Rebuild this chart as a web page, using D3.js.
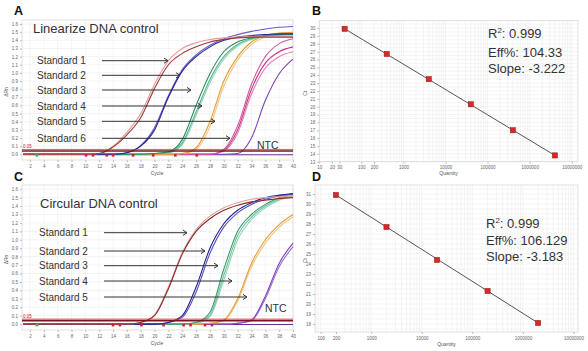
<!DOCTYPE html>
<html>
<head>
<meta charset="utf-8">
<script src="https://cdn.jsdelivr.net/npm/d3@7"></script>
<style>
  body { margin: 0; background: #fff; }
  svg { display: block; }
  text { font-family: "Liberation Sans", Arial, sans-serif; }
</style>
</head>
<body>
<script>
// ---- data ----
const cycleGrid = [1, 4, 8, 10, 12, 14, 16, 18, 20, 22, 24, 26, 28, 30, 32, 34, 36, 38, 40];
const cycleTicks = [2, 4, 6, 8, 10, 12, 14, 16, 18, 20, 22, 24, 26, 28, 30, 32, 34, 36, 38, 40];
const rnTicks = [0, 0.1, 0.2, 0.3, 0.4, 0.5, 0.6, 0.7, 0.8, 0.9, 1.0, 1.1, 1.2, 1.3, 1.4, 1.5, 1.6];
const threshold = 0.05;

// linearized DNA control, delta Rn per cycle (replicates)
const linStd1a = [0, 0, 0, 0, 0.01, 0.09, 0.24, 0.45, 0.81, 1.10, 1.24, 1.32, 1.38, 1.41, 1.43, 1.44, 1.44, 1.44, 1.44];
const linStd1b = [0, 0, 0, 0, 0.01, 0.10, 0.27, 0.50, 0.86, 1.15, 1.30, 1.37, 1.41, 1.43, 1.44, 1.45, 1.45, 1.45, 1.45];
const linStd2a = [0, 0, 0, 0, 0, 0, 0.02, 0.10, 0.30, 0.70, 1.02, 1.20, 1.32, 1.40, 1.44, 1.46, 1.47, 1.48, 1.48];
const linStd2b = [0, 0, 0, 0, 0, 0, 0.02, 0.11, 0.33, 0.72, 1.04, 1.22, 1.34, 1.42, 1.47, 1.51, 1.54, 1.56, 1.57];
const linStd3a = [0, 0, 0, 0, 0, 0, 0, 0, 0.01, 0.03, 0.18, 0.60, 0.99, 1.26, 1.38, 1.43, 1.46, 1.47, 1.48];
const linStd3b = [0, 0, 0, 0, 0, 0, 0, 0, 0.01, 0.02, 0.14, 0.52, 0.92, 1.20, 1.35, 1.42, 1.45, 1.47, 1.47];
const linStd3c = [0, 0, 0, 0, 0, 0, 0, 0, 0.01, 0.02, 0.12, 0.48, 0.88, 1.17, 1.33, 1.41, 1.45, 1.46, 1.47];
const linStd4a = [0, 0, 0, 0, 0, 0, 0, 0, 0, 0, 0.01, 0.08, 0.40, 0.90, 1.20, 1.38, 1.46, 1.49, 1.50];
const linStd4b = [0, 0, 0, 0, 0, 0, 0, 0, 0, 0, 0.01, 0.06, 0.34, 0.84, 1.16, 1.35, 1.44, 1.48, 1.50];
const linStd5a = [0, 0, 0, 0, 0, 0, 0, 0, 0, 0, 0, 0, 0, 0.05, 0.30, 0.80, 1.12, 1.26, 1.32];
const linStd5b = [0, 0, 0, 0, 0, 0, 0, 0, 0, 0, 0, 0, 0, 0.04, 0.26, 0.74, 1.06, 1.20, 1.26];
const linStd5c = [0, 0, 0, 0, 0, 0, 0, 0, 0, 0, 0, 0, 0, 0.06, 0.35, 0.86, 1.20, 1.36, 1.42];
const linStd6a = [0, 0, 0, 0, 0, 0, 0, 0, 0, 0, 0, 0, 0, 0, 0.01, 0.20, 0.66, 0.99, 1.17];
const linNtc = [-0.005, -0.005, -0.005, -0.005, -0.005, -0.005, -0.005, -0.005, -0.005, -0.005, -0.005, -0.005, -0.005, -0.005, -0.005, -0.005, -0.005, -0.005, -0.005];

// circular DNA control
const circStd1a = [0, 0, 0, 0, 0, 0, 0, 0.02, 0.10, 0.42, 0.83, 1.10, 1.25, 1.35, 1.41, 1.45, 1.47, 1.49, 1.50];
const circStd1b = [0, 0, 0, 0, 0, 0, 0, 0.02, 0.11, 0.44, 0.85, 1.12, 1.28, 1.38, 1.44, 1.48, 1.50, 1.51, 1.52];
const circStd2a = [0, 0, 0, 0, 0, 0, 0, 0, 0, 0.02, 0.10, 0.44, 0.90, 1.19, 1.35, 1.44, 1.50, 1.53, 1.55];
const circStd2b = [0, 0, 0, 0, 0, 0, 0, 0, 0, 0.02, 0.08, 0.38, 0.84, 1.15, 1.32, 1.42, 1.48, 1.52, 1.54];
const circStd3a = [0, 0, 0, 0, 0, 0, 0, 0, 0, 0, 0, 0.02, 0.14, 0.65, 1.10, 1.30, 1.42, 1.50, 1.55];
const circStd3b = [0, 0, 0, 0, 0, 0, 0, 0, 0, 0, 0, 0.02, 0.11, 0.58, 1.05, 1.27, 1.40, 1.48, 1.53];
const circStd3c = [0, 0, 0, 0, 0, 0, 0, 0, 0, 0, 0, 0.01, 0.09, 0.52, 1.00, 1.24, 1.38, 1.47, 1.52];
const circStd4a = [0, 0, 0, 0, 0, 0, 0, 0, 0, 0, 0, 0, 0.01, 0.05, 0.30, 0.72, 1.00, 1.18, 1.30];
const circStd4b = [0, 0, 0, 0, 0, 0, 0, 0, 0, 0, 0, 0, 0.01, 0.04, 0.27, 0.68, 0.96, 1.15, 1.27];
const circStd5a = [0, 0, 0, 0, 0, 0, 0, 0, 0, 0, 0, 0, 0, 0, 0.01, 0.05, 0.33, 0.72, 0.96];
const circStd5b = [0, 0, 0, 0, 0, 0, 0, 0, 0, 0, 0, 0, 0, 0, 0.01, 0.04, 0.30, 0.68, 0.92];
const circNtc = linNtc;

const linMarkerCycles = [10.1, 11.1, 13.1, 14.0, 16.9, 19.8, 23.0, 26.1];
const circMarkerCycles = [14.0, 15.0, 18.1, 21.3, 24.2, 25.2, 27.3, 28.3];
const baselineStartCycle = 3;

// standard curves
const quantB = [40, 400, 4000, 40000, 400000, 4000000];
const ctB = [29.9, 26.7, 23.5, 20.3, 17.0, 13.8];
const quantTicksB = [10, 20, 30, 100, 200, 1000, 10000, 100000, 1000000, 10000000];
const ctTicksB = d3.range(13, 31);

const quantD = [200, 2000, 20000, 200000, 2000000];
const ctD = [30.9, 27.7, 24.4, 21.3, 18.1];
const quantTicksD = [100, 200, 1000, 10000, 100000, 1000000, 10000000];
const ctTicksD = d3.range(18, 32);

const statsB = ['0.999', '104.33', '-3.222'];
const statsD = ['0.999', '106.129', '-3.183'];

const linLabels = ['Standard 1', 'Standard 2', 'Standard 3', 'Standard 4', 'Standard 5', 'Standard 6'];
const circLabels = ['Standard 1', 'Standard 2', 'Standard 3', 'Standard 4', 'Standard 5'];

// ---- drawing ----
const svg = d3.select('body').append('svg').attr('width', 588).attr('height', 351);
svg.append('rect').attr('width', 588).attr('height', 351).attr('fill', '#fff');

const tickFont = 4.5;
const gridColor = '#ececec';

function panelLetter(txt, x, y) {
  svg.append('text').attr('x', x).attr('y', y).text(txt)
    .attr('font-size', 12.5).attr('font-weight', 'bold').attr('fill', '#111');
}

function styleAxis(g) {
  g.select('.domain').remove();
  g.selectAll('line').attr('stroke', '#bbb');
  g.selectAll('text').attr('font-size', tickFont).attr('fill', '#666');
}

function ampPanel(o) {
  const x = d3.scaleLinear([0.85, 40], [22, 293]);
  const y = d3.scaleLinear([-0.07, 1.65], [o.bottom, o.top]);
  const g = svg.append('g');

  // grid
  g.append('g').selectAll('line').data(rnTicks).join('line')
    .attr('x1', 22).attr('x2', 293)
    .attr('y1', (d) => y(d)).attr('y2', (d) => y(d))
    .attr('stroke', gridColor).attr('stroke-width', 0.6);
  g.append('g').selectAll('line').data(cycleTicks).join('line')
    .attr('x1', (d) => x(d)).attr('x2', (d) => x(d))
    .attr('y1', o.top).attr('y2', o.bottom)
    .attr('stroke', gridColor).attr('stroke-width', 0.6);
  g.append('rect').attr('x', 22).attr('y', o.top).attr('width', 271).attr('height', o.bottom - o.top)
    .attr('fill', 'none').attr('stroke', '#d4d4d4').attr('stroke-width', 0.7);

  // axes
  g.append('g').attr('transform', `translate(0,${o.bottom})`)
    .call(d3.axisBottom(x).tickValues(cycleTicks).tickSize(2).tickPadding(2.5))
    .call(styleAxis);
  g.append('g').attr('transform', 'translate(22,0)')
    .call(d3.axisLeft(y).tickValues(rnTicks).tickFormat(d3.format('.1f')).tickSize(2).tickPadding(2))
    .call(styleAxis);
  g.append('text').attr('x', 157).attr('y', o.bottom + 14.5).attr('text-anchor', 'middle')
    .attr('font-size', 5).attr('fill', '#555').text('Cycle');
  g.append('text').attr('transform', `translate(8,${(o.top + o.bottom) / 2 + 2}) rotate(-90)`)
    .attr('text-anchor', 'middle').attr('font-size', 5).attr('fill', '#555').text('ΔRn');

  // curves
  const line = d3.line().x((d, i) => x(cycleGrid[i])).y((d) => y(d)).curve(d3.curveMonotoneX);
  g.append('g').selectAll('path').data(o.series).join('path')
    .attr('d', (d) => line(d.values))
    .attr('fill', 'none').attr('stroke', (d) => d.color).attr('stroke-width', 1.1);

  // threshold
  const ty = y(threshold);
  g.append('line').attr('x1', 22).attr('x2', 293).attr('y1', ty + 0.7).attr('y2', ty + 0.7)
    .attr('stroke', '#7a1522').attr('stroke-width', 1.6);
  g.append('line').attr('x1', 22).attr('x2', 293).attr('y1', ty - 0.8).attr('y2', ty - 0.8)
    .attr('stroke', '#e0302f').attr('stroke-width', 0.8);
  g.append('text').attr('x', 23).attr('y', ty - 2).attr('font-size', 4.5).attr('fill', '#d02020').text('0.05');

  // baseline markers
  g.append('g').selectAll('rect').data(o.markers).join('rect')
    .attr('x', (d) => x(d) - 1.3).attr('y', y(-0.012) - 1.3).attr('width', 2.6).attr('height', 2.6)
    .attr('fill', '#d01f2a');
  g.append('circle').attr('cx', x(baselineStartCycle)).attr('cy', y(-0.01)).attr('r', 1.6).attr('fill', '#3cb44b');

  // title and labels
  g.append('text').attr('x', o.titleX).attr('y', o.titleY).attr('font-size', 13).attr('fill', '#333').text(o.title);
  o.labels.forEach((lab, i) => {
    const ly = o.labelY[i];
    g.append('text').attr('x', o.labelX).attr('y', ly + 3.6).attr('font-size', 10).attr('fill', '#333').text(lab);
    const x1 = o.arrowX0, x2 = o.arrowX1[i];
    g.append('line').attr('x1', x1).attr('x2', x2).attr('y1', ly).attr('y2', ly)
      .attr('stroke', '#333').attr('stroke-width', 1);
    g.append('path').attr('d', `M${x2 - 4},${ly - 2.6}L${x2},${ly}L${x2 - 4},${ly + 2.6}`)
      .attr('fill', 'none').attr('stroke', '#333').attr('stroke-width', 1);
  });
  g.append('text').attr('x', o.ntcX).attr('y', o.ntcY + 3.8).attr('font-size', 10.5).attr('fill', '#333').text('NTC');
}

function stdPanel(o) {
  const x = d3.scaleLog(o.xDomain, [o.left, 578]);
  const y = d3.scaleLinear(o.yDomain, [o.bottom, o.top]);
  const g = svg.append('g');

  // minor log grid
  const minor = [];
  for (let e = 1; e <= 7; e++) {
    for (let m = 1; m < 10; m++) {
      const q = m * Math.pow(10, e);
      if (q >= o.xDomain[0] && q <= o.xDomain[1]) minor.push(q);
    }
  }
  g.append('g').selectAll('line').data(minor).join('line')
    .attr('x1', (d) => x(d)).attr('x2', (d) => x(d)).attr('y1', o.top).attr('y2', o.bottom)
    .attr('stroke', gridColor).attr('stroke-width', 0.6);
  const halfTicks = d3.range(Math.ceil(o.yDomain[0] * 2) / 2, o.yDomain[1], 0.5);
  g.append('g').selectAll('line').data(halfTicks).join('line')
    .attr('x1', o.left).attr('x2', 578).attr('y1', (d) => y(d)).attr('y2', (d) => y(d))
    .attr('stroke', gridColor).attr('stroke-width', 0.6);
  g.append('rect').attr('x', o.left).attr('y', o.top).attr('width', 578 - o.left).attr('height', o.bottom - o.top)
    .attr('fill', 'none').attr('stroke', '#d4d4d4').attr('stroke-width', 0.7);

  g.append('g').attr('transform', `translate(0,${o.bottom})`)
    .call(d3.axisBottom(x).tickValues(o.xTicks).tickFormat(d3.format('d')).tickSize(2).tickPadding(2.5))
    .call(styleAxis);
  g.append('g').attr('transform', `translate(${o.left},0)`)
    .call(d3.axisLeft(y).tickValues(o.yTicks).tickSize(2).tickPadding(2))
    .call(styleAxis);
  g.append('text').attr('x', (o.left + 578) / 2).attr('y', o.bottom + 13.5).attr('text-anchor', 'middle')
    .attr('font-size', 5).attr('fill', '#555').text('Quantity');
  g.append('text').attr('transform', `translate(307,${(o.top + o.bottom) / 2 + 2}) rotate(-90)`)
    .attr('text-anchor', 'middle').attr('font-size', 5).attr('fill', '#555').text('Ct');

  // fit line between end points, then points
  const n = o.q.length - 1;
  g.append('line')
    .attr('x1', x(o.q[0])).attr('y1', y(o.ct[0]))
    .attr('x2', x(o.q[n])).attr('y2', y(o.ct[n]))
    .attr('stroke', '#555').attr('stroke-width', 1);
  g.append('g').selectAll('rect').data(o.q).join('rect')
    .attr('x', (d) => x(d) - 2.6).attr('y', (d, i) => y(o.ct[i]) - 2.6)
    .attr('width', 5.2).attr('height', 5.2)
    .attr('fill', '#d42a2a').attr('stroke', '#9a1515').attr('stroke-width', 0.5);

  // stats
  const t = g.append('g').attr('font-size', 13).attr('fill', '#333');
  const r = t.append('text').attr('x', o.statX).attr('y', o.statY[0] + 4.6);
  r.append('tspan').text('R');
  r.append('tspan').attr('font-size', 8).attr('dy', -5).text('2');
  r.append('tspan').attr('dy', 5).text(': ' + o.stats[0]);
  t.append('text').attr('x', o.statX).attr('y', o.statY[1] + 4.6).text('Eff%: ' + o.stats[1]);
  t.append('text').attr('x', o.statX).attr('y', o.statY[2] + 4.6).text('Slope: ' + o.stats[2]);
}

// A
panelLetter('A', 14, 15);
ampPanel({
  top: 20, bottom: 160,
  series: [
    { values: linNtc, color: '#6b2c9c' },
    { values: linStd6a, color: '#7d45b8' },
    { values: linStd5b, color: '#e27cb6' },
    { values: linStd5a, color: '#cc2f86' },
    { values: linStd5c, color: '#c9609f' },
    { values: linStd4b, color: '#f4c47c' },
    { values: linStd4a, color: '#e69c3c' },
    { values: linStd3c, color: '#93d6b6' },
    { values: linStd3b, color: '#52b68b' },
    { values: linStd3a, color: '#2e8b60' },
    { values: linStd2b, color: '#6a5ccc' },
    { values: linStd2a, color: '#22228c' },
    { values: linStd1b, color: '#e0a0a0' },
    { values: linStd1a, color: '#9a3b3b' },
  ],
  markers: linMarkerCycles,
  title: 'Linearize DNA control', titleX: 33, titleY: 33,
  labels: linLabels, labelX: 37,
  labelY: [60.7, 75.3, 90, 106, 121.3, 138.3],
  arrowX0: 102, arrowX1: [168, 180, 191, 202, 215, 230],
  ntcX: 257, ntcY: 145,
});

// B
panelLetter('B', 312, 15);
stdPanel({
  left: 319.3, top: 20.7, bottom: 161.7,
  xDomain: [10, Math.pow(10, 7.15)], yDomain: [13, 30.93],
  xTicks: quantTicksB, yTicks: ctTicksB,
  q: quantB, ct: ctB, stats: statsB,
  statX: 488, statY: [33, 52, 68],
});

// C
panelLetter('C', 14, 181);
ampPanel({
  top: 185, bottom: 330,
  series: [
    { values: circNtc, color: '#6b2c9c' },
    { values: circStd5b, color: '#9a70d0' },
    { values: circStd5a, color: '#7d45b8' },
    { values: circStd4b, color: '#f4c47c' },
    { values: circStd4a, color: '#e69c3c' },
    { values: circStd3c, color: '#93d6b6' },
    { values: circStd3b, color: '#6cc49c' },
    { values: circStd3a, color: '#3a9a70' },
    { values: circStd2b, color: '#5a52c8' },
    { values: circStd2a, color: '#22228c' },
    { values: circStd1b, color: '#e0a0a0' },
    { values: circStd1a, color: '#8c2a2a' },
  ],
  markers: circMarkerCycles,
  title: 'Circular DNA control', titleX: 40, titleY: 207.5,
  labels: circLabels, labelX: 39,
  labelY: [232.7, 251, 265.7, 281, 297],
  arrowX0: 104, arrowX1: [187, 205, 218, 232, 247],
  ntcX: 265, ntcY: 307.7,
});

// D
panelLetter('D', 312, 181);
stdPanel({
  left: 315, top: 185, bottom: 332,
  xDomain: [Math.pow(10, 1.887), Math.pow(10, 7.09)], yDomain: [17.2, 31.9],
  xTicks: quantTicksD, yTicks: ctTicksD,
  q: quantD, ct: ctD, stats: statsD,
  statX: 486, statY: [223, 240, 256],
});
</script>
</body>
</html>
